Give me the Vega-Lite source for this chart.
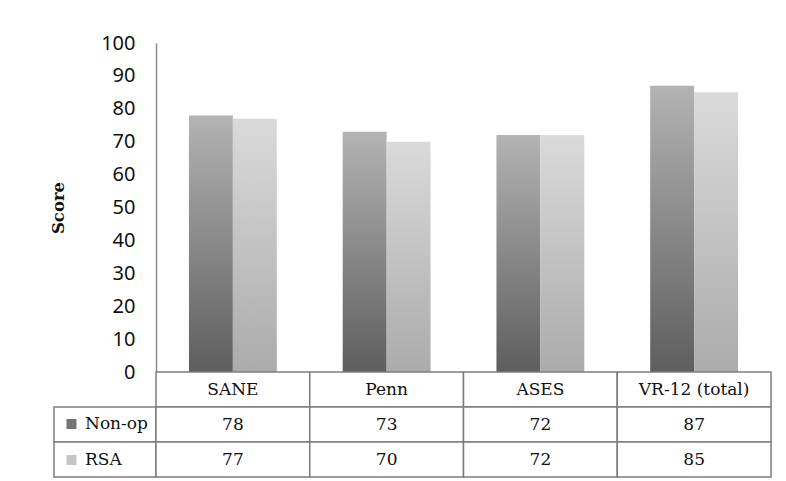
{
  "$schema": "https://vega.github.io/schema/vega-lite/v6.json",
  "padding": {"left": 50, "top": 33, "right": 10, "bottom": 4},
  "background": "white",
  "config": {"view": {"stroke": null}, "legend": {"padding": 0}},
  "datasets": {
    "scores": [
      {"category": "SANE", "series": "Non-op", "score": 78},
      {"category": "SANE", "series": "RSA", "score": 77},
      {"category": "Penn", "series": "Non-op", "score": 73},
      {"category": "Penn", "series": "RSA", "score": 70},
      {"category": "ASES", "series": "Non-op", "score": 72},
      {"category": "ASES", "series": "RSA", "score": 72},
      {"category": "VR-12 (total)", "series": "Non-op", "score": 87},
      {"category": "VR-12 (total)", "series": "RSA", "score": 85}
    ]
  },
  "columns": 2,
  "spacing": 0,
  "bounds": "flush",
  "concat": [
    {
      "width": 102,
      "height": 329,
      "data": {"values": [{}]},
      "mark": {"type": "text", "text": ""},
      "encoding": {}
    },
    {
      "width": 615,
      "height": 329,
      "data": {"name": "scores"},
      "encoding": {
        "x": {"field": "category", "type": "nominal", "sort": null, "scale": {"paddingInner": 0, "paddingOuter": 0}, "axis": null},
        "xOffset": {"field": "series", "type": "nominal", "scale": {"domain": ["Non-op", "RSA"], "paddingInner": 0, "paddingOuter": 0.75}},
        "y": {
          "field": "score", "type": "quantitative",
          "scale": {"domain": [0, 100], "nice": false},
          "axis": {
            "values": [0, 10, 20, 30, 40, 50, 60, 70, 80, 90, 100],
            "grid": false, "ticks": false,
            "domainColor": "#8a8a8a", "domainWidth": 1.5,
            "labelFont": "Noto Sans", "labelFontSize": 20, "labelColor": "#111111", "labelPadding": 21,
            "title": "Score", "titleFont": "DejaVu Serif", "titleFontWeight": "bold", "titleFontSize": 16.5,
            "titleColor": "#111111", "titlePadding": 34
          }
        }
      },
      "layer": [
        {
          "transform": [{"filter": "datum.series === 'Non-op'"}],
          "mark": {"type": "bar", "color": {"gradient": "linear", "x1": 0, "y1": 1, "x2": 0, "y2": 0,
            "stops": [{"offset": 0, "color": "#5e5e5e"}, {"offset": 1, "color": "#b3b3b3"}]}}
        },
        {
          "transform": [{"filter": "datum.series === 'RSA'"}],
          "mark": {"type": "bar", "color": {"gradient": "linear", "x1": 0, "y1": 1, "x2": 0, "y2": 0,
            "stops": [{"offset": 0, "color": "#ababab"}, {"offset": 1, "color": "#dadada"}]}}
        }
      ]
    },
    {
      "width": 102,
      "height": 105,
      "data": {"name": "scores"},
      "transform": [{"aggregate": [{"op": "count", "as": "n"}], "groupby": ["series"]}],
      "mark": {"type": "rect", "fill": "white", "stroke": "#7d7d7d", "strokeWidth": 1.5},
      "encoding": {
        "y": {"field": "series", "type": "nominal", "scale": {"domain": ["header", "Non-op", "RSA"], "paddingInner": 0, "paddingOuter": 0}, "axis": null}
      }
    },
    {
      "width": 615,
      "height": 105,
      "data": {"name": "scores"},
      "encoding": {
        "x": {"field": "category", "type": "nominal", "sort": null, "scale": {"paddingInner": 0, "paddingOuter": 0}, "axis": null}
      },
      "layer": [
        {
          "transform": [{"filter": "datum.series === 'Non-op'"}],
          "mark": {"type": "rect", "fill": "white", "stroke": "#7d7d7d", "strokeWidth": 1.5},
          "encoding": {
            "y": {"datum": "header", "type": "nominal", "scale": {"domain": ["header", "Non-op", "RSA"], "paddingInner": 0, "paddingOuter": 0}, "axis": null}
          }
        },
        {
          "mark": {"type": "rect", "fill": "white", "stroke": "#7d7d7d", "strokeWidth": 1.5},
          "encoding": {
            "y": {"field": "series", "type": "nominal", "scale": {"domain": ["header", "Non-op", "RSA"], "paddingInner": 0, "paddingOuter": 0}, "axis": null}
          }
        },
        {
          "transform": [{"filter": "datum.series === 'Non-op'"}],
          "mark": {"type": "text", "font": "DejaVu Serif", "fontSize": 17, "color": "#111111", "baseline": "middle"},
          "encoding": {
            "y": {"datum": "header", "type": "nominal"},
            "text": {"field": "category"}
          }
        },
        {
          "mark": {"type": "text", "font": "DejaVu Serif", "fontSize": 17, "color": "#111111", "baseline": "middle"},
          "encoding": {
            "y": {"field": "series", "type": "nominal"},
            "text": {"field": "score"}
          }
        },
        {
          "mark": {"type": "point", "filled": true, "opacity": 0},
          "encoding": {
            "y": {"field": "series", "type": "nominal"},
            "color": {
              "field": "series", "type": "nominal",
              "scale": {"domain": ["Non-op", "RSA"], "range": ["#747474", "#c6c6c6"]},
              "legend": {
                "orient": "none", "legendX": 9, "legendY": 372.5, "title": null,
                "symbolType": "square", "symbolSize": 100, "symbolOpacity": 1, "symbolStrokeWidth": 0,
                "labelFont": "DejaVu Serif", "labelFontSize": 17, "labelColor": "#111111",
                "labelOffset": 5, "rowPadding": 18
              }
            }
          }
        }
      ]
    }
  ]
}
